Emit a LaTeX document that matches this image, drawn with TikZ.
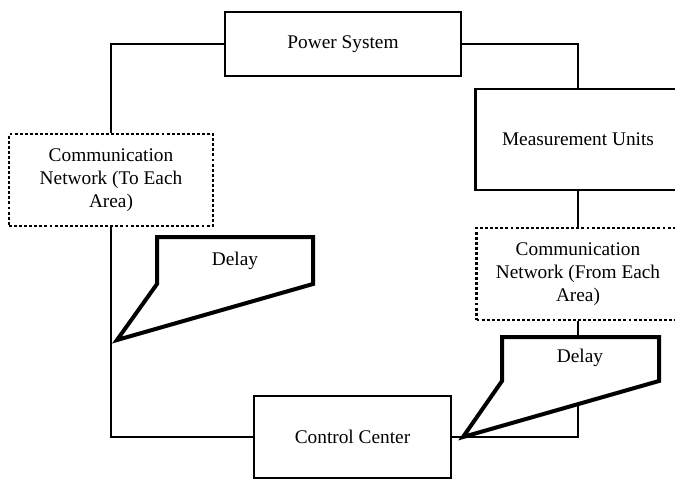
\documentclass[tikz,border=0pt]{standalone}
\usepackage{fontspec}
\setmainfont{Liberation Serif}
\begin{document}
\begin{tikzpicture}[x=0.75pt,y=-0.75pt,
  box/.style={draw,line width=1.8pt,fill=white,inner sep=0pt,align=center,font=\fontsize{14.5}{17}\selectfont},
  netbox/.style={box,dash pattern=on 2.2pt off 1.6pt,line width=1.6pt},
  conn/.style={line width=1.4pt},
  delayshape/.style={draw,line width=3pt,fill=white,line join=miter},
  lbl/.style={font=\fontsize{14.5}{17}\selectfont,inner sep=0pt}]
\clip (0,0) rectangle (675,479);
\fill[white] (0,0) rectangle (675,479);
% boxes
\node[box,minimum width=236*0.75pt,minimum height=64*0.75pt] (ps) at (343,44) {Power System};
\node[netbox,minimum width=204*0.75pt,minimum height=92*0.75pt] (lc) at (111,180) {Communication\\Network (To Each\\Area)};
\node[box,minimum width=205*0.75pt,minimum height=101*0.75pt] (mu) at (578,139.5) {Measurement Units};
\node[netbox,minimum width=203*0.75pt,minimum height=92*0.75pt] (rc) at (578,274) {Communication\\Network (From Each\\Area)};
\node[box,minimum width=197*0.75pt,minimum height=82*0.75pt] (cc) at (352.5,437) {Control Center};
% connectors
\draw[conn] (ps.west) -| (lc.north);
\draw[conn] (ps.east) -| (mu.north);
\draw[conn] (mu.south) -- (rc.north);
\draw[conn] (rc.south) |- (cc.east);
\draw[conn] (lc.south) |- (cc.west);
% delay callouts
\draw[delayshape] (157,237) -- (313,237) -- (313,284) -- (117,340) -- (157,284) -- cycle;
\node[lbl] (d1) at (235,261) {Delay};
\draw[delayshape] (502,337) -- (659,337) -- (659,381) -- (463,437) -- (502,381) -- cycle;
\node[lbl] (d2) at (580,358) {Delay};
\end{tikzpicture}
\end{document}
